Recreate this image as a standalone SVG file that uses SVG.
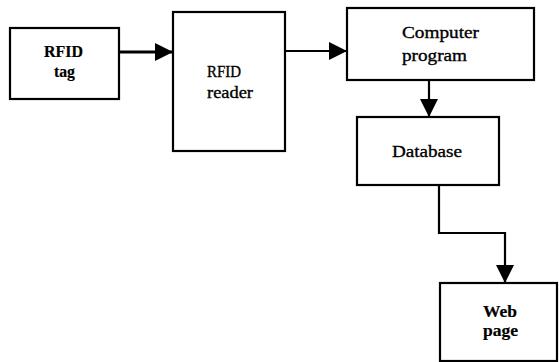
<svg xmlns="http://www.w3.org/2000/svg" width="559" height="362" viewBox="0 0 559 362">
<style>
.box{fill:#fff;stroke:#000;stroke-width:2.2}
.t{font-family:"Liberation Serif","Times New Roman",serif;font-size:17px;fill:#000;stroke:#000;stroke-width:0.35}
.b{font-weight:bold;stroke-width:0.2}
.c{fill:none;stroke:#000;stroke-width:2.2}
</style>
<defs>
<marker id="ah" markerUnits="userSpaceOnUse" markerWidth="18" markerHeight="18" refX="18" refY="9" orient="auto">
<path d="M0,0 L18,9 L0,18 z" fill="#000"/>
</marker>
</defs>
<g id="connectors">
<path class="c" style="stroke-width:3" d="M119,52 L173,52" marker-end="url(#ah)"/>
<path class="c" d="M285,51 L347,51" marker-end="url(#ah)"/>
<path class="c" d="M429,80 L429,117" marker-end="url(#ah)"/>
<path class="c" d="M439,185 L439,233 L505,233 L505,283" marker-end="url(#ah)"/>
</g>
<g id="rfid-tag">
<rect class="box" x="10" y="28" width="109" height="71"/>
<text class="t b" x="44" y="57" textLength="39" lengthAdjust="spacingAndGlyphs">RFID</text>
<text class="t b" x="54" y="77" textLength="21" lengthAdjust="spacingAndGlyphs">tag</text>
</g>
<g id="rfid-reader">
<rect class="box" x="173" y="12" width="112" height="139"/>
<text class="t" x="207" y="77" textLength="34" lengthAdjust="spacingAndGlyphs">RFID</text>
<text class="t" x="207" y="98" textLength="46" lengthAdjust="spacingAndGlyphs">reader</text>
</g>
<g id="computer-program">
<rect class="box" x="347" y="8" width="187" height="72"/>
<text class="t" x="402" y="38" textLength="77" lengthAdjust="spacingAndGlyphs">Computer</text>
<text class="t" x="402" y="61" textLength="65" lengthAdjust="spacingAndGlyphs">program</text>
</g>
<g id="database">
<rect class="box" x="357" y="117" width="142" height="68"/>
<text class="t" x="392" y="157" textLength="70" lengthAdjust="spacingAndGlyphs">Database</text>
</g>
<g id="web-page">
<rect class="box" x="440" y="283" width="117" height="78"/>
<text class="t b" x="483" y="317" textLength="34" lengthAdjust="spacingAndGlyphs">Web</text>
<text class="t b" x="483" y="336" textLength="35" lengthAdjust="spacingAndGlyphs">page</text>
</g>
</svg>
